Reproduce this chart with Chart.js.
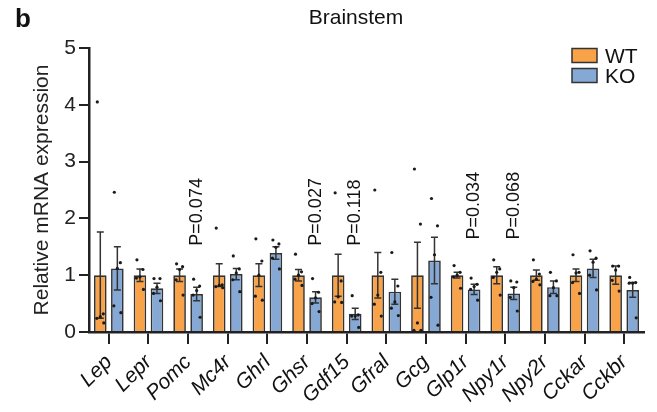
<!DOCTYPE html>
<html>
<head>
<meta charset="utf-8">
<script src="https://cdn.jsdelivr.net/npm/chart.js@4.4.1/dist/chart.umd.min.js"></script>
<style>
  html, body { margin: 0; padding: 0; background: #fff; }
</style>
</head>
<body>
<canvas id="c" width="657" height="412"></canvas>
<script>
// brainstem qPCR panel

const genes = ['Lep', 'Lepr', 'Pomc', 'Mc4r', 'Ghrl', 'Ghsr', 'Gdf15', 'Gfral', 'Gcg', 'Glp1r', 'Npy1r', 'Npy2r', 'Cckar', 'Cckbr'];
const yTicks = [0, 1, 2, 3, 4, 5];

const wtMean = [1.0, 1.0, 1.0, 1.0, 1.0, 1.0, 1.0, 1.0, 1.0, 1.0, 1.0, 1.0, 1.0, 1.0];
const koMean = [1.12, 0.77, 0.67, 1.02, 1.39, 0.61, 0.32, 0.71, 1.26, 0.75, 0.68, 0.79, 1.12, 0.74];

const wtSem = [0.76, 0.11, 0.11, 0.2, 0.2, 0.1, 0.37, 0.4, 0.58, 0.05, 0.15, 0.09, 0.11, 0.16];
const koSem = [0.38, 0.09, 0.12, 0.1, 0.11, 0.1, 0.1, 0.22, 0.41, 0.09, 0.11, 0.11, 0.16, 0.13];

const wtPoints = [
  [4.05, 0.32, 0.27, 0.24, 0.16],
  [1.27, 1.1, 0.97, 0.95, 0.75],
  [1.2, 1.15, 1.1, 0.92, 0.65],
  [1.83, 0.83, 0.82, 0.8, 0.78],
  [1.64, 1.25, 1.0, 0.63, 0.56],
  [1.37, 1.06, 1.0, 0.93, 0.82],
  [2.45, 0.9, 0.62, 0.53, 0.52],
  [2.5, 1.05, 0.65, 0.49, 0.28],
  [2.87, 1.9, 0.16, 0.03, 0.03],
  [1.17, 1.05, 1.0, 0.97, 0.77],
  [1.27, 1.11, 1.05, 0.96, 0.65],
  [1.27, 1.02, 0.93, 0.89, 0.83],
  [1.36, 1.05, 1.04, 0.87, 0.68],
  [1.16, 1.16, 1.09, 0.91, 0.72]
];
const koPoints = [
  [2.46, 1.22, 1.12, 0.46, 0.34],
  [0.94, 0.94, 0.79, 0.68, 0.55],
  [0.93, 0.81, 0.73, 0.65, 0.26],
  [1.34, 1.11, 1.04, 0.92, 0.71],
  [1.62, 1.55, 1.49, 1.3, 1.11],
  [0.94, 0.7, 0.6, 0.5, 0.36],
  [0.64, 0.3, 0.28, 0.28, 0.08],
  [1.4, 0.81, 0.53, 0.42, 0.29],
  [2.35, 1.87, 1.36, 0.61, 0.12],
  [0.95, 0.84, 0.8, 0.75, 0.56],
  [0.9, 0.88, 0.78, 0.61, 0.37],
  [1.05, 0.9, 0.78, 0.64, 0.64],
  [1.43, 1.3, 1.23, 1.0, 0.74],
  [0.96, 0.87, 0.86, 0.86, 0.25]
];

// p-value labels sit above the KO bar of these genes
const pGenes = ['Pomc', 'Ghsr', 'Gdf15', 'Glp1r', 'Npy1r'];
const pTexts = ['P=0.074', 'P=0.027', 'P=0.118', 'P=0.034', 'P=0.068'];
const pBase = [1.52, 1.52, 1.52, 1.63, 1.63];

const FONT = '"Liberation Sans", Arial, sans-serif';
const wtColor = '#F8A34A';
const koColor = '#86A8D4';
const edge = '#333';
const jitter = [-3, 3, 0, -3.5, 3.5];

const overlay = {
  id: 'overlay',
  afterDatasetsDraw(chart) {
    const { ctx, scales: { y } } = chart;
    const groups = [[wtMean, wtSem, wtPoints], [koMean, koSem, koPoints]];

    groups.forEach(([mean, sem, pts], d) => {
      chart.getDatasetMeta(d).data.forEach((bar, i) => {
        const cx = bar.x;
        const top = y.getPixelForValue(mean[i] + sem[i]);
        const bot = y.getPixelForValue(Math.max(mean[i] - sem[i], 0));
        ctx.save();
        ctx.strokeStyle = edge;
        ctx.lineWidth = 1.5;
        ctx.beginPath();
        ctx.moveTo(cx, top); ctx.lineTo(cx, bot);
        ctx.moveTo(cx - 3.5, top); ctx.lineTo(cx + 3.5, top);
        ctx.moveTo(cx - 3.5, bot); ctx.lineTo(cx + 3.5, bot);
        ctx.stroke();
        ctx.fillStyle = '#1a1a1a';
        pts[i].forEach((v, k) => {
          ctx.beginPath();
          ctx.arc(cx + jitter[k % jitter.length], y.getPixelForValue(v), 1.6, 0, Math.PI * 2);
          ctx.fill();
        });
        ctx.restore();
      });
    });

    // p values
    const koMeta = chart.getDatasetMeta(1);
    ctx.save();
    ctx.fillStyle = '#111';
    ctx.font = '18px ' + FONT;
    ctx.textAlign = 'left';
    ctx.textBaseline = 'middle';
    pGenes.forEach((g, k) => {
      const bar = koMeta.data[genes.indexOf(g)];
      ctx.save();
      ctx.translate(bar.x, y.getPixelForValue(pBase[k]));
      ctx.rotate(-Math.PI / 2);
      ctx.fillText(pTexts[k], 0, 0);
      ctx.restore();
    });
    ctx.restore();
  },
  afterDraw(chart) {
    const { ctx } = chart;
    ctx.save();
    ctx.fillStyle = '#111';
    ctx.font = 'bold 26px ' + FONT;
    ctx.textAlign = 'left';
    ctx.textBaseline = 'alphabetic';
    ctx.fillText('b', 15, 27);

    ctx.font = '21px ' + FONT;
    ctx.textAlign = 'center';
    ctx.fillText('Brainstem', 356, 24);

    // legend
    ctx.textAlign = 'left';
    chart.data.datasets.forEach((ds, i) => {
      const by = 48.5 + i * 20;
      ctx.fillStyle = ds.backgroundColor;
      ctx.fillRect(572, by, 25, 14);
      ctx.strokeStyle = edge;
      ctx.lineWidth = 1.5;
      ctx.strokeRect(572, by, 25, 14);
      ctx.fillStyle = '#111';
      ctx.fillText(ds.label, 605, by + 14);
    });
    ctx.restore();
  }
};

new Chart(document.getElementById('c'), {
  type: 'bar',
  data: {
    labels: genes,
    datasets: [
      { label: 'WT', data: wtMean, backgroundColor: wtColor, borderColor: edge, borderWidth: 1.7, categoryPercentage: 0.86, barPercentage: 0.74 },
      { label: 'KO', data: koMean, backgroundColor: koColor, borderColor: edge, borderWidth: 1.7, categoryPercentage: 0.86, barPercentage: 0.74 }
    ]
  },
  options: {
    responsive: false,
    animation: false,
    devicePixelRatio: 1,
    layout: { padding: { left: 24, top: 48, right: 13, bottom: 0 } },
    plugins: { legend: { display: false }, tooltip: { enabled: false } },
    scales: {
      x: {
        grid: { drawOnChartArea: false, drawTicks: true, tickLength: 12, color: '#222', lineWidth: 2, offset: false },
        border: { display: true, color: '#222', width: 2.5 },
        ticks: { font: { family: FONT, size: 21, style: 'italic' }, color: '#111', minRotation: 45, maxRotation: 45, autoSkip: false, padding: 6 },
        afterFit(s) { s.height = 80; }
      },
      y: {
        min: 0,
        max: 5,
        afterBuildTicks(s) { s.ticks = yTicks.map(v => ({ value: v })); },
        ticks: { font: { family: FONT, size: 21 }, color: '#222', padding: 3 },
        grid: { drawOnChartArea: false, drawTicks: true, tickLength: 10, color: '#222', lineWidth: 2 },
        border: { display: true, color: '#222', width: 2.5 },
        title: { display: true, text: 'Relative mRNA expression', font: { family: FONT, size: 21 }, color: '#222', padding: { top: 6, bottom: 0 } },
        afterFit(s) { s.width = 65; }
      }
    }
  },
  plugins: [overlay]
});
</script>
</body>
</html>
